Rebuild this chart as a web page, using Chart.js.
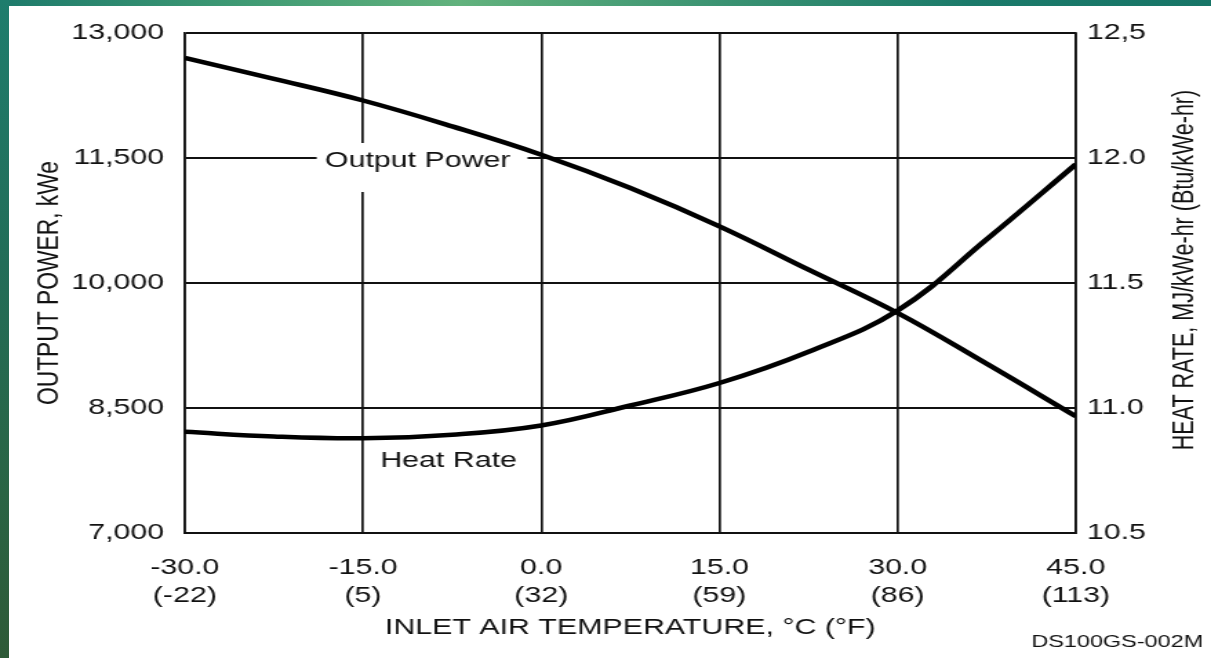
<!DOCTYPE html>
<html lang="en">

<head>
    <meta charset="UTF-8">
    <title>Output Power and Heat Rate vs Inlet Air Temperature</title>
    <script src="https://cdn.jsdelivr.net/npm/chart.js"></script>
    <style>
        body {
            margin: 0;
            width: 1211px;
            height: 658px;
            overflow: hidden;
            position: relative;
            background: linear-gradient(90deg, #1d7a6b 0%, #3f9a74 20%, #62b27d 38%, #3a9272 60%, #1b7a6a 80%, #177567 100%);
        }

        /* green strip on the left edge */
        .side {
            position: absolute;
            left: 0;
            top: 0;
            width: 9px;
            height: 658px;
            background: linear-gradient(180deg, #1e7d6d 0%, #226d58 40%, #2a6444 75%, #2e5a37 100%);
        }

        .sheet {
            position: absolute;
            left: 9px;
            top: 6px;
            right: 0;
            bottom: 0;
            background: #fff;
        }

        /* the original figure is stretched sideways, so the canvas is too */
        #heatChart {
            position: absolute;
            left: 0;
            top: 0;
            transform-origin: 0 0;
            transform: scaleX(1.3793);
        }
    </style>
</head>

<body>
    <div class="side"></div>
    <div class="sheet"></div>
    <canvas id="heatChart" width="878" height="658"></canvas>

    <script>
        // Inlet air temperature, degrees C
        const temperaturesC = [-30, -22.5, -15, -7.5, 0, 7.5, 15, 22.5, 30, 37.5, 45];

        // Output power, kWe (left axis)
        const outputPower = [12700, 12450, 12190, 11880, 11540, 11140, 10680, 10160, 9640, 9030, 8400];

        // Heat rate, MJ/kWe-hr (right axis)
        const heatRate = [10.905, 10.886, 10.879, 10.893, 10.93, 11.01, 11.10, 11.225, 11.39, 11.675, 11.975];

        // Tick labels
        const xTickValues = [-30, -15, 0, 15, 30, 45];
        const xTickLabelsF = ['(-22)', '(5)', '(32)', '(59)', '(86)', '(113)'];
        const rightTickLabels = ['10.5', '11.0', '11.5', '12.0', '12,5'];

        const FONT = '"Liberation Sans", Arial, Helvetica, sans-serif';
        const INK = '#111';

        // Texts written inside the figure, the right axis title and the drawing code
        const annotationsPlugin = {
            id: 'annotations',
            beforeDatasetsDraw(chart) {
                const ctx = chart.ctx;
                const x = chart.scales.x;
                const y = chart.scales.y;
                ctx.save();
                // white gap in the grid behind "Output Power"
                const bx1 = x.getPixelForValue(-18.9);
                const bx2 = x.getPixelForValue(-1.15);
                const by1 = y.getPixelForValue(11680);
                const by2 = y.getPixelForValue(11092);
                ctx.fillStyle = '#fff';
                ctx.fillRect(bx1, by1, bx2 - bx1, by2 - by1);
                ctx.restore();
            },
            afterDraw(chart) {
                const ctx = chart.ctx;
                const x = chart.scales.x;
                const y = chart.scales.y;
                const y1 = chart.scales.y1;
                const area = chart.chartArea;
                ctx.save();
                ctx.fillStyle = INK;
                ctx.textAlign = 'center';
                ctx.textBaseline = 'middle';
                ctx.font = '22px ' + FONT;
                ctx.fillText('Output Power', x.getPixelForValue(-10.4), y.getPixelForValue(11465));
                ctx.fillText('Heat Rate', x.getPixelForValue(-7.8), y1.getPixelForValue(10.788));

                // right axis title, reading bottom to top
                ctx.save();
                ctx.translate(area.right + 79, 270);
                ctx.rotate(-Math.PI / 2);
                ctx.font = '21.5px ' + FONT;
                ctx.fillText('HEAT RATE, MJ/kWe-hr (Btu/kWe-hr)', 0, 0);
                ctx.restore();

                ctx.font = '17px ' + FONT;
                ctx.fillText('DS100GS-002M', area.right + 30, 642);
                ctx.restore();
            }
        };

        const ctx = document.getElementById('heatChart').getContext('2d');
        new Chart(ctx, {
            type: 'line',
            data: {
                datasets: [
                    {
                        label: 'Output Power',
                        data: temperaturesC.map((t, i) => ({ x: t, y: outputPower[i] })),
                        yAxisID: 'y',
                        borderColor: '#000',
                        borderWidth: 4.5,
                        pointRadius: 0,
                        tension: 0.4,
                        fill: false
                    },
                    {
                        label: 'Heat Rate',
                        data: temperaturesC.map((t, i) => ({ x: t, y: heatRate[i] })),
                        yAxisID: 'y1',
                        borderColor: '#000',
                        borderWidth: 4.5,
                        pointRadius: 0,
                        tension: 0.4,
                        fill: false
                    }
                ]
            },
            options: {
                responsive: false,
                animation: false,
                events: [],
                layout: {
                    padding: { top: 33, left: 0, right: 0, bottom: 0 }
                },
                plugins: {
                    legend: { display: false },
                    tooltip: { enabled: false }
                },
                scales: {
                    x: {
                        type: 'linear',
                        min: -30,
                        max: 45,
                        afterFit: (s) => { s.height = 125; },
                        afterBuildTicks: (s) => { s.ticks = xTickValues.map(v => ({ value: v })); },
                        grid: { color: INK, lineWidth: 1.7, drawTicks: false },
                        border: { color: INK, width: 2 },
                        ticks: {
                            color: INK,
                            padding: 21,
                            maxRotation: 0,
                            font: { family: FONT, size: 22, lineHeight: 1.27 },
                            callback: (value) => [value.toFixed(1), xTickLabelsF[xTickValues.indexOf(value)]]
                        },
                        title: {
                            display: true,
                            text: 'INLET AIR TEMPERATURE, °C (°F)',
                            color: INK,
                            font: { family: FONT, size: 22, lineHeight: 1.2 },
                            padding: { top: 0, bottom: 17 }
                        }
                    },
                    y: {
                        position: 'left',
                        min: 7000,
                        max: 13000,
                        afterFit: (s) => { s.width = 134; },
                        grid: { color: INK, lineWidth: 2, drawTicks: false },
                        border: { color: INK, width: 1.7 },
                        ticks: {
                            stepSize: 1500,
                            color: INK,
                            padding: 15,
                            font: { family: FONT, size: 22 },
                            callback: (value) => value.toLocaleString('en-US')
                        },
                        title: {
                            display: true,
                            text: 'OUTPUT POWER, kWe',
                            color: INK,
                            font: { family: FONT, size: 22.8, lineHeight: 1.2 },
                            padding: { top: 22, bottom: 0 }
                        }
                    },
                    y1: {
                        position: 'right',
                        min: 10.5,
                        max: 12.5,
                        afterFit: (s) => { s.width = 98; },
                        grid: { drawOnChartArea: false, drawTicks: false },
                        border: { color: INK, width: 1.7 },
                        ticks: {
                            stepSize: 0.5,
                            color: INK,
                            padding: 8,
                            font: { family: FONT, size: 22 },
                            callback: (value) => rightTickLabels[Math.round((value - 10.5) / 0.5)]
                        }
                    }
                }
            },
            plugins: [annotationsPlugin]
        });
    </script>
</body>

</html>
